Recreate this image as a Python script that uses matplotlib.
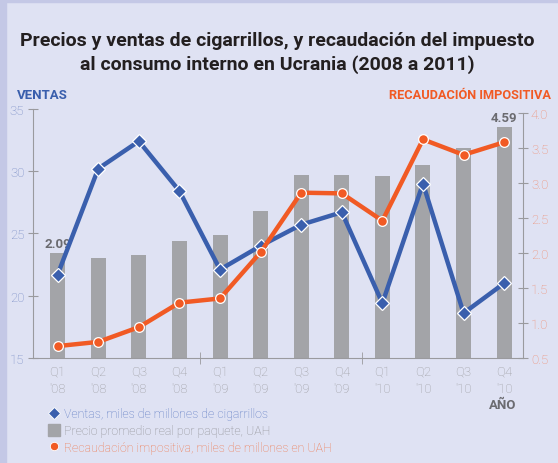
import matplotlib.pyplot as plt
from matplotlib.patches import Rectangle
from matplotlib.lines import Line2D

plt.rcParams['font.family'] = ['Roboto', 'Liberation Sans', 'DejaVu Sans']

# colours
BG = '#dfe2f3'
STRIPE = '#c4c8e6'
BLUE = '#3a5fad'
ORANGE = '#f15a24'
BAR = '#a3a4a8'
AXIS = '#9a9a9e'
TICK_BLUE = '#7489c4'
TICK_ORANGE = '#f08c70'
TICK_GREY = '#9c9ca0'

# data
quarters = ['Q1', 'Q2', 'Q3', 'Q4'] * 3
years = ["'08"] * 4 + ["'09"] * 4 + ["'10"] * 4
ventas = [21.7, 30.2, 32.4, 28.4, 22.1, 24.0, 25.7, 26.7, 19.4, 29.0, 18.6, 21.0]
precio = [2.09, 1.99, 2.05, 2.33, 2.45, 2.92, 3.64, 3.64, 3.62, 3.84, 4.17, 4.59]
recaudacion = [0.67, 0.73, 0.94, 1.29, 1.35, 2.01, 2.86, 2.85, 2.46, 3.62, 3.40, 3.58]
ventas_ticks = [15, 20, 25, 30, 35]
recaud_ticks = [0.5, 1.0, 1.5, 2.0, 2.5, 3.0, 3.5, 4.0]

x = list(range(len(quarters)))

fig = plt.figure(figsize=(5.58, 4.64), dpi=100, facecolor=BG)
fig.patches.append(Rectangle((0, 0), 0.011, 1, transform=fig.transFigure, color=STRIPE, zorder=0))
fig.patches.append(Rectangle((0, 0.993), 1, 0.007, transform=fig.transFigure, color=STRIPE, zorder=0))

rect = [0.0597, 0.2263, 0.878, 0.537]
ax_b = fig.add_axes(rect)
ax_v = ax_b.twinx()
ax_r = ax_b.twinx()
for a in (ax_b, ax_v, ax_r):
    a.set_facecolor('none')
    for s in a.spines.values():
        s.set_visible(False)

# bars (price per pack), own scale from zero
ax_b.bar(x, precio, width=0.37, color=BAR, zorder=1)
ax_b.set_ylim(0, 4.95)
ax_b.set_yticks([])
ax_b.set_xlim(-0.6, 11.47)
for i in (0, len(precio) - 1):
    ax_b.text(x[i], precio[i] + 0.05, f'{precio[i]:.2f}', ha='center', va='bottom',
              fontsize=9.5, fontweight='bold', color='#6b6b70')

# x axis
ax_b.spines['bottom'].set_visible(True)
ax_b.spines['bottom'].set_color(AXIS)
ax_b.set_xticks(x)
ax_b.set_xticklabels([f'{q}\n{y}' for q, y in zip(quarters, years)], fontsize=9.5,
                     color=TICK_GREY, linespacing=1.45, fontweight='light')
ax_b.tick_params(axis='x', length=0, pad=5)
ax_b.set_xticks([3.5, 7.5], minor=True)
ax_b.tick_params(axis='x', which='minor', direction='inout', length=8, color=AXIS)

# ventas line (left axis)
ax_v.plot(x, ventas, color=BLUE, lw=3.2, marker='D', ms=7.5, mfc=BLUE, mec='white', mew=0.9)
ax_v.set_ylim(15, 35)
ax_v.yaxis.tick_left()
ax_v.set_yticks(ventas_ticks)
ax_v.tick_params(axis='y', direction='inout', length=7, color=AXIS, labelcolor=TICK_BLUE,
                 labelsize=9.5, pad=3)
for lbl in ax_v.get_yticklabels():
    lbl.set_fontweight('light')
ax_v.spines['left'].set_visible(True)
ax_v.spines['left'].set_color(AXIS)

# recaudacion line (right axis)
ax_r.plot(x, recaudacion, color=ORANGE, lw=3.2, marker='o', ms=7, mfc=ORANGE, mec='white', mew=0.9)
ax_r.set_ylim(0.5, 4.057)
ax_r.set_yticks(recaud_ticks)
ax_r.set_yticklabels([f'{t:.1f}' for t in recaud_ticks], fontweight='light')
ax_r.tick_params(axis='y', direction='inout', length=7, color=AXIS, labelcolor=TICK_ORANGE,
                 labelsize=9.5, pad=2)
ax_r.spines['right'].set_visible(True)
ax_r.spines['right'].set_color(AXIS)
ax_r.spines['right'].set_bounds(0.5, 4.0)

# titles
fig.text(0.497, 0.886, 'Precios y ventas de cigarrillos, y recaudación del impuesto\n'
         'al consumo interno en Ucrania (2008 a 2011)', ha='center', va='center',
         fontsize=14, fontweight='bold', color='#231f20', linespacing=1.33)
fig.text(0.03, 0.795, 'VENTAS', fontsize=9.5, fontweight='bold', color=BLUE, va='center')
fig.text(0.988, 0.795, 'RECAUDACIÓN IMPOSITIVA', fontsize=9.2, fontweight='bold', color=ORANGE,
         va='center', ha='right')
fig.text(0.877, 0.127, 'AÑO', fontsize=9.5, fontweight='bold', color='#6b6b70', va='center')

# legend
handles = [
    Line2D([], [], ls='none', marker='D', ms=6, mfc=BLUE, mec='white', mew=0.6),
    Line2D([], [], ls='none', marker='s', ms=8, mfc=BAR, mec=BAR),
    Line2D([], [], ls='none', marker='o', ms=6, mfc=ORANGE, mec='white', mew=0.6),
]
labels = ['Ventas, miles de millones de cigarrillos',
          'Precio promedio real por paquete, UAH',
          'Recaudación impositiva, miles de millones en UAH']
leg = fig.legend(handles, labels, loc='upper left', bbox_to_anchor=(0.09, 0.12), frameon=False,
                 fontsize=8.9, labelcolor=['#5a78c2', '#8e8e92', '#f0784e'], handlelength=0.6,
                 handletextpad=0.5, labelspacing=0.3, borderpad=0, borderaxespad=0)
for t in leg.get_texts():
    t.set_fontweight('light')

fig.savefig('out.png', dpi=100, facecolor=BG)
